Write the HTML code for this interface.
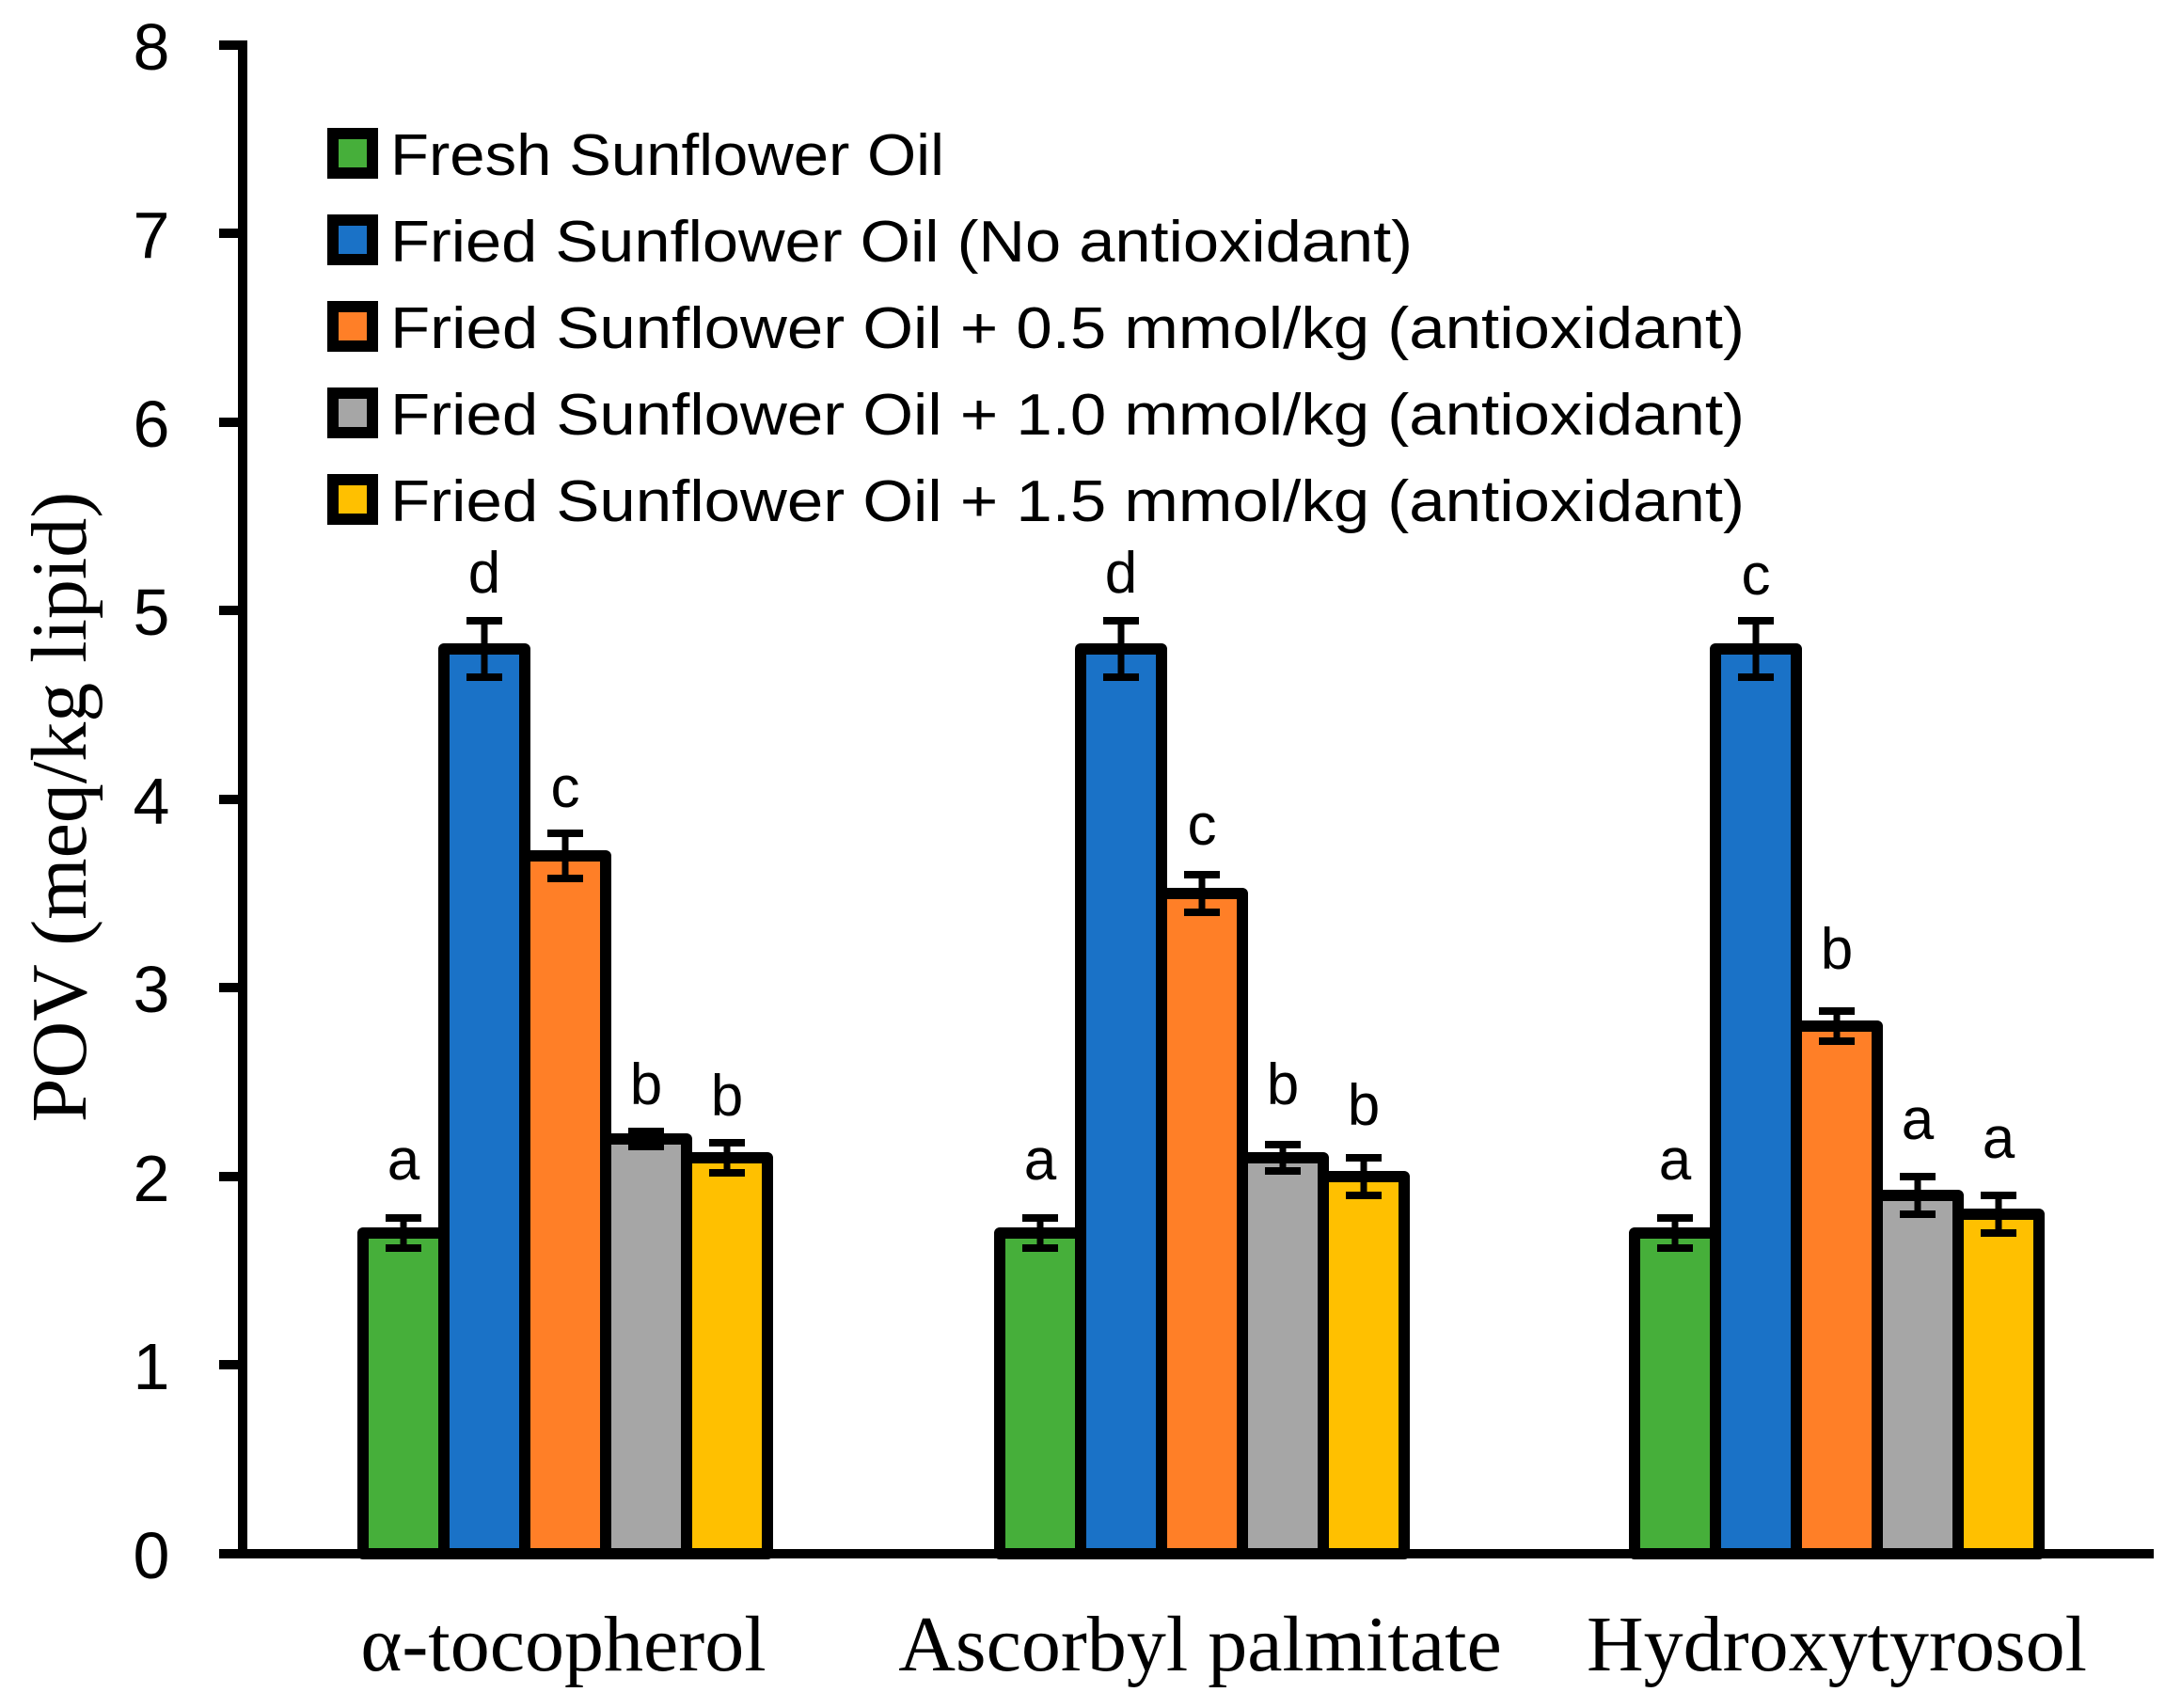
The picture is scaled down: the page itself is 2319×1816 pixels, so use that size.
<!DOCTYPE html>
<html><head><meta charset="utf-8"><style>html,body{margin:0;padding:0;background:#fff}svg{display:block}</style></head>
<body>
<svg width="2319" height="1816" viewBox="0 0 2319 1816" xmlns="http://www.w3.org/2000/svg">
<g font-family="Liberation Sans, sans-serif" font-size="70" fill="#000" text-anchor="middle">
<text x="161" y="74">8</text>
<text x="161" y="274">7</text>
<text x="161" y="475">6</text>
<text x="161" y="675">5</text>
<text x="161" y="876">4</text>
<text x="161" y="1076">3</text>
<text x="161" y="1277">2</text>
<text x="161" y="1477">1</text>
<text x="161" y="1678">0</text>
</g>
<g stroke="#000" stroke-width="10">
<line x1="258" y1="43" x2="258" y2="1657"/>
<line x1="253" y1="1652" x2="2290" y2="1652"/>
<line x1="233" y1="48" x2="262" y2="48"/><line x1="233" y1="248" x2="262" y2="248"/>
<line x1="233" y1="449" x2="262" y2="449"/><line x1="233" y1="649" x2="262" y2="649"/>
<line x1="233" y1="850" x2="262" y2="850"/><line x1="233" y1="1050" x2="262" y2="1050"/>
<line x1="233" y1="1251" x2="262" y2="1251"/><line x1="233" y1="1451" x2="262" y2="1451"/>
<line x1="233" y1="1652" x2="262" y2="1652"/>
</g>
<g font-family="Liberation Serif, serif" font-size="84" text-anchor="middle" fill="#000">
<text x="599" y="1776">α-tocopherol</text>
<text x="1276" y="1776">Ascorbyl palmitate</text>
<text x="1953" y="1776">Hydroxytyrosol</text>
<text transform="translate(91,858) rotate(-90)">POV (meq/kg lipid)</text>
</g>
<g font-family="Liberation Sans, sans-serif" font-size="62" fill="#000">
<rect x="354" y="142" width="42" height="42" fill="#46AF3A" stroke="#000" stroke-width="12"/>
<text x="415" y="186" textLength="589" lengthAdjust="spacingAndGlyphs">Fresh Sunflower Oil</text>
<rect x="354" y="234" width="42" height="42" fill="#1A72C7" stroke="#000" stroke-width="12"/>
<text x="415" y="278" textLength="1087" lengthAdjust="spacingAndGlyphs">Fried Sunflower Oil (No antioxidant)</text>
<rect x="354" y="326" width="42" height="42" fill="#FF7F27" stroke="#000" stroke-width="12"/>
<text x="415" y="370" textLength="1440" lengthAdjust="spacingAndGlyphs">Fried Sunflower Oil + 0.5 mmol/kg (antioxidant)</text>
<rect x="354" y="418" width="42" height="42" fill="#A6A6A6" stroke="#000" stroke-width="12"/>
<text x="415" y="462" textLength="1440" lengthAdjust="spacingAndGlyphs">Fried Sunflower Oil + 1.0 mmol/kg (antioxidant)</text>
<rect x="354" y="510" width="42" height="42" fill="#FFC000" stroke="#000" stroke-width="12"/>
<text x="415" y="554" textLength="1440" lengthAdjust="spacingAndGlyphs">Fried Sunflower Oil + 1.5 mmol/kg (antioxidant)</text>
</g>
<g transform="translate(-3,0)">
<g stroke="#000" stroke-width="12" stroke-linejoin="round">
<rect x="389" y="1311" width="86" height="341" fill="#46AF3A"/>
<rect x="475" y="690" width="86" height="962" fill="#1A72C7"/>
<rect x="561" y="910" width="86" height="742" fill="#FF7F27"/>
<rect x="647" y="1211" width="86" height="441" fill="#A6A6A6"/>
<rect x="733" y="1231" width="86" height="421" fill="#FFC000"/>
<rect x="1066" y="1311" width="86" height="341" fill="#46AF3A"/>
<rect x="1152" y="690" width="86" height="962" fill="#1A72C7"/>
<rect x="1238" y="950" width="86" height="702" fill="#FF7F27"/>
<rect x="1324" y="1231" width="86" height="421" fill="#A6A6A6"/>
<rect x="1410" y="1251" width="86" height="401" fill="#FFC000"/>
<rect x="1741" y="1311" width="86" height="341" fill="#46AF3A"/>
<rect x="1827" y="690" width="86" height="962" fill="#1A72C7"/>
<rect x="1913" y="1091" width="86" height="561" fill="#FF7F27"/>
<rect x="1999" y="1271" width="86" height="381" fill="#A6A6A6"/>
<rect x="2085" y="1291" width="86" height="361" fill="#FFC000"/>
</g>
<g stroke="#000" fill="none">
<path stroke-width="7" d="
M432 1295V1327 M518 660V720 M604 886V934 M690 1203V1219 M776 1215V1247
M1109 1295V1327 M1195 660V720 M1281 930V970 M1367 1217V1245 M1453 1231V1271
M1784 1295V1327 M1870 660V720 M1956 1075V1107 M2042 1251V1291 M2128 1271V1311"/>
<path stroke-width="8" d="
M413 1295H451 M413 1327H451 M499 660H537 M499 720H537 M585 886H623 M585 934H623 M671 1203H709 M671 1219H709 M757 1215H795 M757 1247H795
M1090 1295H1128 M1090 1327H1128 M1176 660H1214 M1176 720H1214 M1262 930H1300 M1262 970H1300 M1348 1217H1386 M1348 1245H1386 M1434 1231H1472 M1434 1271H1472
M1765 1295H1803 M1765 1327H1803 M1851 660H1889 M1851 720H1889 M1937 1075H1975 M1937 1107H1975 M2023 1251H2061 M2023 1291H2061 M2109 1271H2147 M2109 1311H2147"/>
</g>
<g font-family="Liberation Sans, sans-serif" font-size="62" text-anchor="middle" fill="#000">
<text x="432" y="1254">a</text><text x="518" y="630">d</text><text x="604" y="858">c</text><text x="690" y="1174">b</text><text x="776" y="1186">b</text>
<text x="1109" y="1254">a</text><text x="1195" y="630">d</text><text x="1281" y="898">c</text><text x="1367" y="1174">b</text><text x="1453" y="1196">b</text>
<text x="1784" y="1254">a</text><text x="1870" y="632">c</text><text x="1956" y="1030">b</text><text x="2042" y="1211">a</text><text x="2128" y="1231">a</text>
</g>
</g>
</svg>
</body></html>
